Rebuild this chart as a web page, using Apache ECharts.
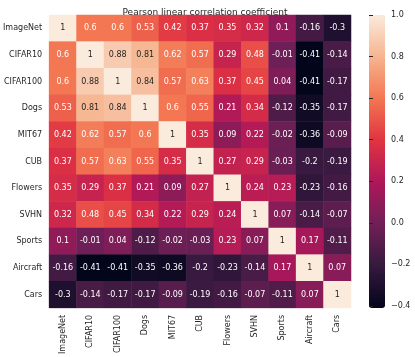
<!DOCTYPE html>
<html><head><meta charset="utf-8">
<script src="https://cdn.jsdelivr.net/npm/echarts@6/dist/echarts.min.js"></script>
<style>html,body{margin:0;padding:0;background:#fff}#c{width:415px;height:357px}</style>
</head><body><div id="c"></div>
<script>
const categories = ['ImageNet','CIFAR10','CIFAR100','Dogs','MIT67','CUB','Flowers','SVHN','Sports','Aircraft','Cars'];
const rImageNet = [1, 0.6, 0.6, 0.53, 0.42, 0.37, 0.35, 0.32, 0.1, -0.16, -0.3];
const rCIFAR10  = [0.6, 1, 0.88, 0.81, 0.62, 0.57, 0.29, 0.48, -0.01, -0.41, -0.14];
const rCIFAR100 = [0.6, 0.88, 1, 0.84, 0.57, 0.63, 0.37, 0.45, 0.04, -0.41, -0.17];
const rDogs     = [0.53, 0.81, 0.84, 1, 0.6, 0.55, 0.21, 0.34, -0.12, -0.35, -0.17];
const rMIT67    = [0.42, 0.62, 0.57, 0.6, 1, 0.35, 0.09, 0.22, -0.02, -0.36, -0.09];
const rCUB      = [0.37, 0.57, 0.63, 0.55, 0.35, 1, 0.27, 0.29, -0.03, -0.2, -0.19];
const rFlowers  = [0.35, 0.29, 0.37, 0.21, 0.09, 0.27, 1, 0.24, 0.23, -0.23, -0.16];
const rSVHN     = [0.32, 0.48, 0.45, 0.34, 0.22, 0.29, 0.24, 1, 0.07, -0.14, -0.07];
const rSports   = [0.1, -0.01, 0.04, -0.12, -0.02, -0.03, 0.23, 0.07, 1, 0.17, -0.11];
const rAircraft = [-0.16, -0.41, -0.41, -0.35, -0.36, -0.2, -0.23, -0.14, 0.17, 1, 0.07];
const rCars     = [-0.3, -0.14, -0.17, -0.17, -0.09, -0.19, -0.16, -0.07, -0.11, 0.07, 1];
const tickMin = -0.4, tickMax = 1.0, tickStep = 0.2;
const vmin = -0.41, vmax = 1;
const title = 'Pearson linear correlation coefficient';

const rows = [rImageNet, rCIFAR10, rCIFAR100, rDogs, rMIT67, rCUB, rFlowers, rSVHN, rSports, rAircraft, rCars];
const data = [];
rows.forEach((row, i) => row.forEach((v, j) => data.push({
  value: [j, i, v],
  label: {color: v >= 0.8 ? '#262626' : '#ffffff'}
})));

const font = 'DejaVu Sans';
const barTop = 15, barH = 293;
const tickTop = barTop + (vmax - tickMax) / (vmax - vmin) * barH;
const tickH = (tickMax - tickMin) / (vmax - vmin) * barH;

const chart = echarts.init(document.getElementById('c'), null, {renderer: 'canvas'});
chart.setOption({
  animation: false,
  backgroundColor: '#fff',
  title: {text: title, left: 200, top: 3, textAlign: 'center',
    textStyle: {fontFamily: font, fontSize: 9, fontWeight: 'normal', color: '#262626'}},
  grid: [
    {left: 49, top: 15, width: 302, height: 293},
    {left: 369, top: tickTop, width: 16, height: tickH}
  ],
  xAxis: [
    {type: 'category', data: categories, gridIndex: 0, position: 'bottom',
     axisLine: {show: false}, axisTick: {show: false}, splitLine: {show: false},
     axisLabel: {rotate: 90, fontFamily: font, fontSize: 8, color: '#262626', margin: 7, interval: 0}},
    {type: 'value', gridIndex: 1, show: false, min: 0, max: 1}
  ],
  yAxis: [
    {type: 'category', data: categories, gridIndex: 0, inverse: true,
     axisLine: {show: false}, axisTick: {show: false}, splitLine: {show: false},
     axisLabel: {fontFamily: font, fontSize: 8, color: '#262626', margin: 7, interval: 0}},
    {type: 'value', gridIndex: 1, min: tickMin, max: tickMax, interval: tickStep, position: 'right', z: 10,
     axisLine: {show: false},
     splitLine: {show: false},
     axisTick: {show: true, inside: false, length: 4,
       lineStyle: {color: '#262626', width: 1}},
     axisLabel: {show: true, fontFamily: font, fontSize: 8, color: '#262626', margin: 6,
       formatter: v => Number(v).toFixed(1).replace('-', '\u2212')}}
  ],
  visualMap: {
    type: 'continuous', min: vmin, max: vmax, calculable: false, show: true,
    seriesIndex: 0, orient: 'vertical', left: 369, top: barTop, padding: 0,
    itemWidth: 16, itemHeight: barH, text: null, showLabel: false,
    inRange: {color: ['#03051a', '#35193e', '#701f57', '#ad1759', '#e13342', '#f37651', '#f6b48f', '#faebdd']}
  },
  series: [{
    type: 'heatmap', xAxisIndex: 0, yAxisIndex: 0, data: data,
    label: {show: true, fontFamily: font, fontSize: 8,
      formatter: p => String(p.value[2])},
    itemStyle: {borderWidth: 0},
    emphasis: {disabled: true}
  }]
});
</script></body></html>
